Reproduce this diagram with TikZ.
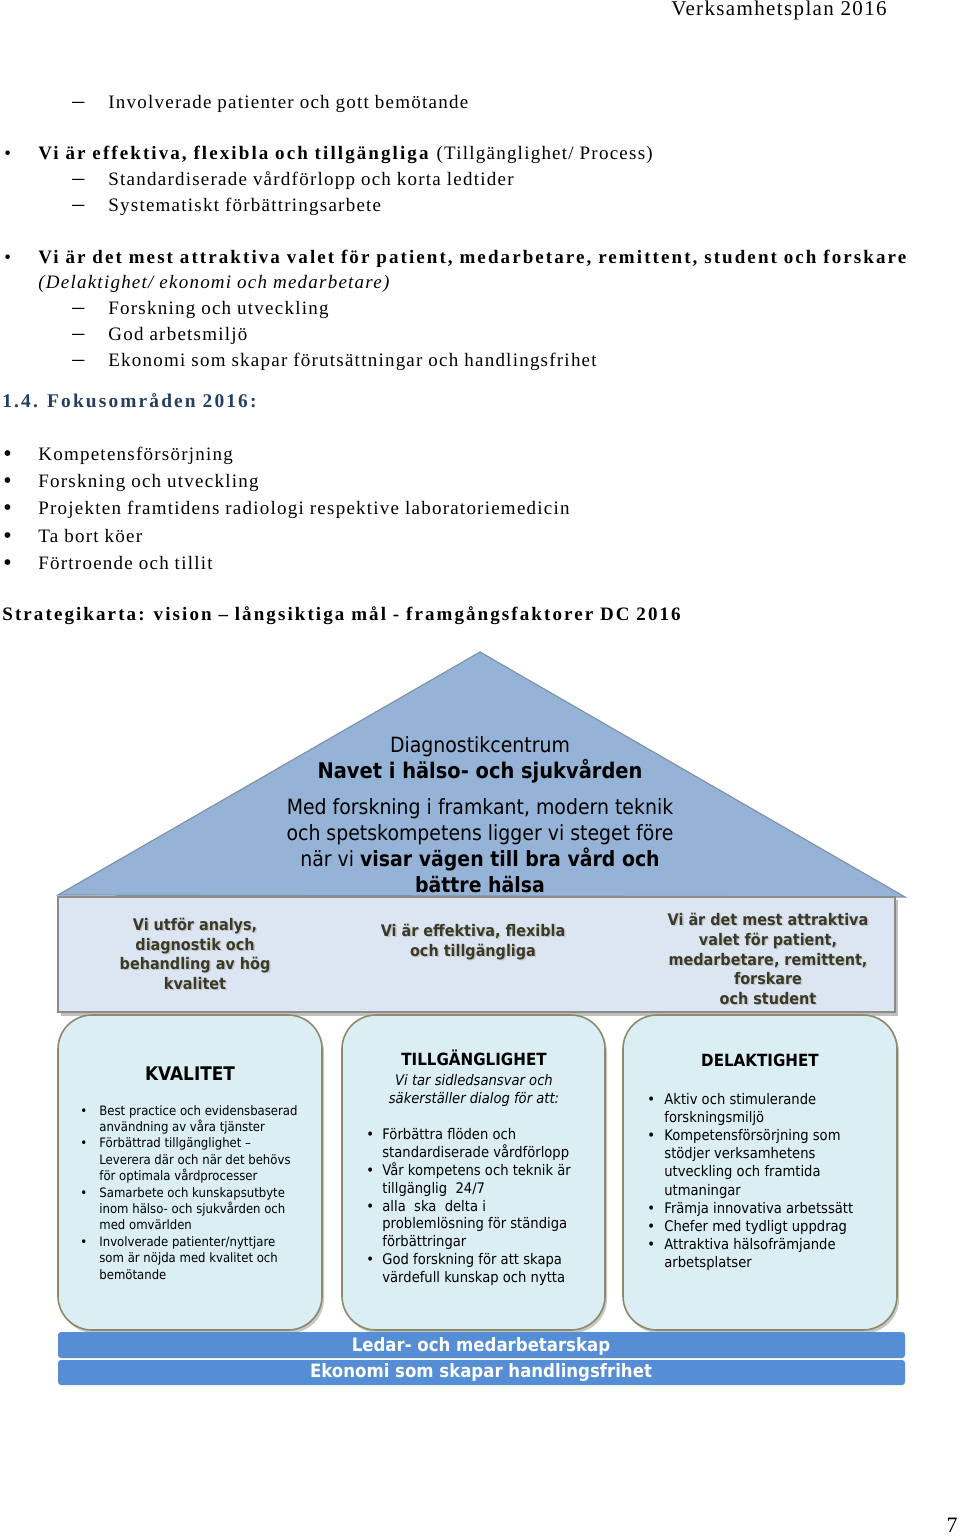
\documentclass[tikz,border=0pt]{standalone}
\usepackage{fontspec}
\setmainfont{Liberation Serif}
\newfontfamily\bodyf{Liberation Serif}[LetterSpace=6.5, BoldFeatures={LetterSpace=11}]
\newfontfamily\sansf{DejaVu Sans}[FakeStretch=0.9]
\definecolor{trifill}{HTML}{95B3D7}
\definecolor{triline}{HTML}{7F93A8}
\definecolor{bandfill}{HTML}{DCE6F2}
\definecolor{bandline}{HTML}{8C8C8C}
\definecolor{boxfill}{HTML}{DAEEF3}
\definecolor{boxline}{HTML}{8C8A6C}
\definecolor{barfill}{HTML}{558ED5}
\definecolor{headblue}{HTML}{243F60}
\definecolor{bandtext}{HTML}{3A3A2A}
\tikzset{
  body/.style={anchor=west, inner sep=0pt, text height=0.72em, text depth=0.22em, font=\bodyf\fontsize{9.5}{11}\selectfont},
  dashmark/.style={anchor=west, inner sep=0pt, text height=0.72em, text depth=0.22em, font=\bodyf\fontsize{12}{13}\selectfont},
  hsans/.style={inner sep=0pt, text height=0.72em, text depth=0.22em, font=\sansf\fontsize{10.5}{13}\selectfont},
  bandtxt/.style={inner sep=0pt, text height=0.72em, text depth=0.22em, text=bandtext, font=\sansf\bfseries\fontsize{8}{10}\selectfont},
  bandsh/.style={inner sep=0pt, text height=0.72em, text depth=0.22em, text=black!22, font=\sansf\bfseries\fontsize{8}{10}\selectfont},
  ka/.style={anchor=west, inner sep=0pt, text height=0.72em, text depth=0.22em, font=\sansf\fontsize{6.5}{8}\selectfont},
  kb/.style={anchor=west, inner sep=0pt, text height=0.72em, text depth=0.22em, font=\sansf\fontsize{7.3}{9}\selectfont},
  boxtitle/.style={inner sep=0pt, text height=0.72em, text depth=0.22em, font=\sansf\bfseries\fontsize{8.4}{10}\selectfont},
  pillar/.style={draw=boxline, line width=0.8pt, fill=boxfill, rounded corners=17pt},
  pillarsh/.style={fill=black!22, rounded corners=17pt},
  bar/.style={fill=barfill, rounded corners=1.5pt},
  bartxt/.style={inner sep=0pt, text height=0.72em, text depth=0.22em, text=white, font=\sansf\bfseries\fontsize{9.2}{11}\selectfont}
}
\begin{document}
\begin{tikzpicture}[x=0.5pt,y=-0.5pt]
\useasboundingbox (0,0) rectangle (960,1538);
\fill[white] (0,0) rectangle (960,1538);

% ---------- header ----------
\node[body, anchor=east, font=\bodyf\fontsize{10.5}{12}\selectfont] (hdr) at (887,10) {Verksamhetsplan 2016};

% ---------- text part ----------
\node[dashmark] (d1) at (72,103) {–};
\node[body] (t1) at (108,103) {Involverade patienter och gott bemötande};

\node[body] (b2) at (4,154) {•};
\node[body] (t2) at (38,154) {\textbf{Vi är effektiva, flexibla och tillgängliga} (Tillgänglighet/ Process)};
\node[dashmark] (d2a) at (72,180) {–};
\node[body] (t2a) at (108,180) {Standardiserade vårdförlopp och korta ledtider};
\node[dashmark] (d2b) at (72,206) {–};
\node[body] (t2b) at (108,206) {Systematiskt förbättringsarbete};

\node[body] (b3) at (4,258) {•};
\node[body] (t3) at (38,258) {\textbf{Vi är det mest attraktiva valet för patient, medarbetare, remittent, student och forskare}};
\node[body] (t3i) at (38,283) {\textit{(Delaktighet/ ekonomi och medarbetare)}};
\node[dashmark] (d3a) at (72,309) {–};
\node[body] (t3a) at (108,309) {Forskning och utveckling};
\node[dashmark] (d3b) at (72,335) {–};
\node[body] (t3b) at (108,335) {God arbetsmiljö};
\node[dashmark] (d3c) at (72,361) {–};
\node[body] (t3c) at (108,361) {Ekonomi som skapar förutsättningar och handlingsfrihet};

\node[body, text=headblue, font=\bodyf\bfseries\fontsize{9.7}{11}\selectfont] (fok) at (2,402) {1.4. Fokusområden 2016:};

\node[body, font=\bodyf\fontsize{12}{13}\selectfont] (f1b) at (3,456) {•};
\node[body] (f1) at (38,455) {Kompetensförsörjning};
\node[body, font=\bodyf\fontsize{12}{13}\selectfont] (f2b) at (3,483) {•};
\node[body] (f2) at (38,482) {Forskning och utveckling};
\node[body, font=\bodyf\fontsize{12}{13}\selectfont] (f3b) at (3,510) {•};
\node[body] (f3) at (38,509) {Projekten framtidens radiologi respektive laboratoriemedicin};
\node[body, font=\bodyf\fontsize{12}{13}\selectfont] (f4b) at (3,538) {•};
\node[body] (f4) at (38,537) {Ta bort köer};
\node[body, font=\bodyf\fontsize{12}{13}\selectfont] (f5b) at (3,565) {•};
\node[body] (f5) at (38,564) {Förtroende och tillit};

\node[body, font=\bodyf\bfseries\fontsize{9.5}{11}\selectfont] (strat) at (2,615) {Strategikarta: vision – långsiktiga mål - framgångsfaktorer DC 2016};

% ---------- house roof ----------
\filldraw[fill=trifill, draw=triline, line width=0.6pt] (480,652) -- (905,897) -- (58,895) -- cycle;
\node[hsans] (r1) at (480,747) {Diagnostikcentrum};
\node[hsans, font=\sansf\bfseries\fontsize{10.8}{13}\selectfont] (r2) at (480,773) {Navet i hälso- och sjukvården};
\node[hsans] (r3) at (480,809) {Med forskning i framkant, modern teknik};
\node[hsans] (r4) at (480,835) {och spetskompetens ligger vi steget före};
\node[hsans] (r5) at (480,861) {när vi \textbf{visar vägen till bra vård och}};
\node[hsans] (r6) at (480,887) {\textbf{bättre hälsa}};

% ---------- band ----------
\fill[black!25] (61,900) rectangle (898,1016);
\filldraw[fill=bandfill, draw=bandline, line width=0.6pt] (58,897) rectangle (895,1012);
\foreach \nm/\xx/\yy/\tx in {
  ba1/195/925/{Vi utför analys,}, ba2/195/945/{diagnostik och}, ba3/195/964/{behandling av hög}, ba4/195/984/{kvalitet},
  bb1/473/931/{Vi är effektiva, flexibla}, bb2/473/951/{och tillgängliga},
  bc1/768/920/{Vi är det mest attraktiva}, bc2/768/940/{valet för patient,}, bc3/768/960/{medarbetare, remittent,}, bc4/768/979/{forskare}, bc5/768/999/{och student}}
{
  \node[bandsh] (\nm s) at (\xx+1.5,\yy+1.5) {\tx};
  \node[bandtxt] (\nm) at (\xx,\yy) {\tx};
}

% ---------- pillars ----------
\fill[pillarsh] (60,1018) rectangle (324,1333);
\fill[pillarsh] (344,1018) rectangle (607,1333);
\fill[pillarsh] (625,1018) rectangle (899,1333);
\draw[pillar] (58,1015) rectangle (322,1330);
\draw[pillar] (342,1015) rectangle (605,1330);
\draw[pillar] (623,1015) rectangle (897,1330);

% KVALITET
\node[boxtitle, font=\sansf\bfseries\fontsize{9.4}{11}\selectfont] (kt) at (190,1075) {KVALITET};
\foreach \nm/\yy in {kb1/1110, kb3/1142.8, kb6/1192, kb9/1241.2}
  \node[ka] (\nm) at (80,\yy) {•};
\node[ka] (k1) at (99,1110) {Best practice och evidensbaserad};
\node[ka] (k2) at (99,1126.4) {användning av våra tjänster};
\node[ka] (k3) at (99,1142.8) {Förbättrad tillgänglighet –};
\node[ka] (k4) at (99,1159.2) {Leverera där och när det behövs};
\node[ka] (k5) at (99,1175.6) {för optimala vårdprocesser};
\node[ka] (k6) at (99,1192) {Samarbete och kunskapsutbyte};
\node[ka] (k7) at (99,1208.4) {inom hälso- och sjukvården och};
\node[ka] (k8) at (99,1224.8) {med omvärlden};
\node[ka] (k9) at (99,1241.2) {Involverade patienter/nyttjare};
\node[ka] (k10) at (99,1257.6) {som är nöjda med kvalitet och};
\node[ka] (k11) at (99,1274) {bemötande};

% TILLGÄNGLIGHET
\node[boxtitle] (tt) at (474,1060) {TILLGÄNGLIGHET};
\node[kb, anchor=center] (ts1) at (474,1080) {\itshape Vi tar sidledsansvar och};
\node[kb, anchor=center] (ts2) at (474,1098) {\itshape säkerställer dialog för att:};
\foreach \nm/\yy in {lb1/1134, lb3/1170, lb5/1206, lb8/1259}
  \node[kb] (\nm) at (366,\yy) {•};
\node[kb] (l1) at (382,1134) {Förbättra flöden och};
\node[kb] (l2) at (382,1152) {standardiserade vårdförlopp};
\node[kb] (l3) at (382,1170) {Vår kompetens och teknik är};
\node[kb] (l4) at (382,1188) {tillgänglig\ \ 24/7};
\node[kb] (l5) at (382,1206) {alla\ \ ska\ \ delta i};
\node[kb] (l6) at (382,1223) {problemlösning för ständiga};
\node[kb] (l7) at (382,1241) {förbättringar};
\node[kb] (l8) at (382,1259) {God forskning för att skapa};
\node[kb] (l9) at (382,1277) {värdefull kunskap och nytta};

% DELAKTIGHET
\node[boxtitle] (dt) at (760,1061) {DELAKTIGHET};
\foreach \nm/\yy in {mb1/1099, mb3/1135, mb7/1208, mb8/1226, mb9/1244}
  \node[kb] (\nm) at (647,\yy) {•};
\node[kb] (m1) at (664,1099) {Aktiv och stimulerande};
\node[kb] (m2) at (664,1117) {forskningsmiljö};
\node[kb] (m3) at (664,1135) {Kompetensförsörjning som};
\node[kb] (m4) at (664,1153) {stödjer verksamhetens};
\node[kb] (m5) at (664,1171) {utveckling och framtida};
\node[kb] (m6) at (664,1190) {utmaningar};
\node[kb] (m7) at (664,1208) {Främja innovativa arbetssätt};
\node[kb] (m8) at (664,1226) {Chefer med tydligt uppdrag};
\node[kb] (m9) at (664,1244) {Attraktiva hälsofrämjande};
\node[kb] (m10) at (664,1262) {arbetsplatser};

% ---------- foundation bars ----------
\fill[bar] (58,1332) rectangle (905,1358);
\fill[bar] (58,1360) rectangle (905,1385);
\node[bartxt] (bar1) at (481,1346) {Ledar- och medarbetarskap};
\node[bartxt] (bar2) at (481,1372) {Ekonomi som skapar handlingsfrihet};

% ---------- page number ----------
\node[body, anchor=east, font=\bodyf\fontsize{11}{12}\selectfont] (pg) at (958,1527) {7};
\end{tikzpicture}
\end{document}
